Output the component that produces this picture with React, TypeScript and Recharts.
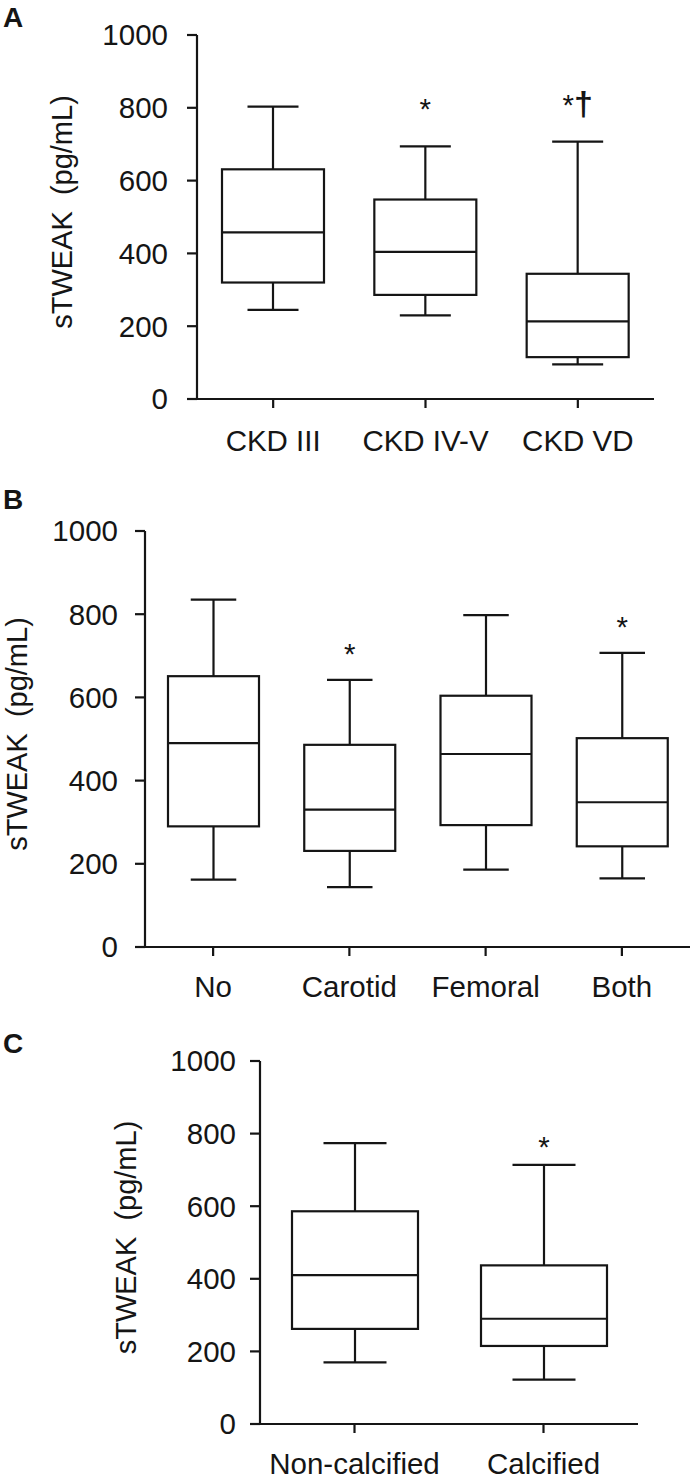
import React from 'react';
import { BarChart, Bar, XAxis, YAxis } from 'recharts';

// Panel A - CKD stage
const ckdGroups = ['CKD III', 'CKD IV-V', 'CKD VD'];
const ckdMin = [245, 230, 95];
const ckdQ1 = [320, 286, 115];
const ckdMedian = [458, 404, 213];
const ckdQ3 = [631, 548, 344];
const ckdMax = [803, 694, 707];
const ckdMarks = ['', '*', '*†'];

// Panel B - calcification site
const siteGroups = ['No', 'Carotid', 'Femoral', 'Both'];
const siteMin = [162, 144, 186, 165];
const siteQ1 = [290, 231, 293, 242];
const siteMedian = [490, 330, 464, 348];
const siteQ3 = [651, 486, 604, 502];
const siteMax = [835, 642, 798, 707];
const siteMarks = ['', '*', '', '*'];

// Panel C - calcified or not
const calcGroups = ['Non-calcified', 'Calcified'];
const calcMin = [170, 122];
const calcQ1 = [262, 215];
const calcMedian = [410, 290];
const calcQ3 = [586, 437];
const calcMax = [774, 714];
const calcMarks = ['', '*'];

const yTicks = [0, 200, 400, 600, 800, 1000];
const yTitle = 'sTWEAK  (pg/mL)';

const FONT = '"Liberation Sans", Arial, Helvetica, sans-serif';
const INK = '#151515';
const FS = 29.5;

const makeRows = (
  groups: string[],
  min: number[],
  q1: number[],
  median: number[],
  q3: number[],
  max: number[],
  marks: string[]
) =>
  groups.map((name, i) => ({
    name,
    box: [q1[i], q3[i]],
    min: min[i],
    median: median[i],
    max: max[i],
    mark: marks[i],
  }));

const BoxShape = (props: any) => {
  const { x, y, width, height, payload, markGap } = props;
  if (!payload) return null;
  const top = Math.min(y, y + height);
  const h = Math.abs(height);
  const [q1, q3] = payload.box;
  const k = h / (q3 - q1);
  const toY = (v: number) => top + (q3 - v) * k;
  const cx = x + width / 2;
  const cap = width / 4;
  const yMax = toY(payload.max);
  const yMin = toY(payload.min);
  const mark: string = payload.mark || '';
  return (
    <g stroke={INK} strokeWidth={2.2} fill="none">
      <line x1={cx} x2={cx} y1={yMax} y2={top} />
      <line x1={cx} x2={cx} y1={top + h} y2={yMin} />
      <line x1={cx - cap} x2={cx + cap} y1={yMax} y2={yMax} />
      <line x1={cx - cap} x2={cx + cap} y1={yMin} y2={yMin} />
      <rect x={x} y={top} width={width} height={h} fill="#fff" />
      <line x1={x} x2={x + width} y1={toY(payload.median)} y2={toY(payload.median)} />
      {mark ? (
        <text
          x={cx}
          y={yMax - markGap}
          textAnchor="middle"
          stroke="none"
          fill={INK}
          fontSize={FS}
          fontFamily={FONT}
        >
          {mark.replace('†', '')}
          {mark.includes('†') ? (
            <tspan fontWeight="bold" fontSize={34}>
              †
            </tspan>
          ) : null}
        </text>
      ) : null}
    </g>
  );
};

interface PanelProps {
  letter: string;
  letterTop: number;
  top: number;
  height: number;
  rows: any[];
  axisX: number;
  plotTop: number;
  plotBottom: number;
  plotRight: number;
  barSize: number;
  yTickMargin: number;
  xTickMargin: number;
  titleX: number;
  markGap: number;
}

const Panel: React.FC<PanelProps> = ({
  letter,
  letterTop,
  top,
  height,
  rows,
  axisX,
  plotTop,
  plotBottom,
  plotRight,
  barSize,
  yTickMargin,
  xTickMargin,
  titleX,
  markGap,
}) => {
  const tickStyle = { fill: INK, fontSize: FS, fontFamily: FONT };
  return (
    <div style={{ position: 'absolute', left: 0, top, width: 693, height }}>
      <BarChart
        width={693}
        height={height}
        data={rows}
        margin={{ top: plotTop, right: 693 - plotRight, left: 0, bottom: 0 }}
      >
        <XAxis
          dataKey="name"
          height={height - plotBottom}
          interval={0}
          tickSize={9}
          tickMargin={xTickMargin}
          tick={tickStyle}
          axisLine={{ stroke: INK, strokeWidth: 2.2 }}
          tickLine={{ stroke: INK, strokeWidth: 2.2 }}
        />
        <YAxis
          width={axisX}
          domain={[0, 1000]}
          ticks={yTicks}
          tickSize={10}
          tickMargin={yTickMargin}
          tick={tickStyle}
          axisLine={{ stroke: INK, strokeWidth: 2.2 }}
          tickLine={{ stroke: INK, strokeWidth: 2.2 }}
          label={{
            content: (p: any) => {
              const vb = p.viewBox || {};
              const cy = vb.y + vb.height / 2 - 5;
              return (
                <text
                  x={titleX}
                  y={cy}
                  transform={`rotate(-90, ${titleX}, ${cy})`}
                  textAnchor="middle"
                  fill={INK}
                  fontSize={29}
                  fontFamily={FONT}
                  style={{ whiteSpace: 'pre' }}
                >
                  {yTitle}
                </text>
              );
            },
          }}
        />
        <Bar
          dataKey="box"
          barSize={barSize}
          isAnimationActive={false}
          shape={(p: any) => <BoxShape {...p} markGap={markGap} />}
        />
      </BarChart>
      <div
        style={{
          position: 'absolute',
          left: 3,
          top: letterTop,
          fontFamily: FONT,
          fontWeight: 'bold',
          fontSize: 28,
          lineHeight: '34px',
          color: INK,
        }}
      >
        {letter}
      </div>
    </div>
  );
};

export default function App() {
  const ckdRows = makeRows(ckdGroups, ckdMin, ckdQ1, ckdMedian, ckdQ3, ckdMax, ckdMarks);
  const siteRows = makeRows(siteGroups, siteMin, siteQ1, siteMedian, siteQ3, siteMax, siteMarks);
  const calcRows = makeRows(calcGroups, calcMin, calcQ1, calcMedian, calcQ3, calcMax, calcMarks);
  return (
    <div
      style={{
        position: 'absolute',
        left: 0,
        top: 0,
        width: 693,
        height: 1480,
        background: '#fff',
        overflow: 'hidden',
      }}
    >
      <Panel
        letter="A"
        letterTop={1}
        top={0}
        height={480}
        rows={ckdRows}
        axisX={197}
        plotTop={35}
        plotBottom={399}
        plotRight={654}
        barSize={102}
        yTickMargin={19}
        xTickMargin={22}
        titleX={72}
        markGap={27}
      />
      <Panel
        letter="B"
        letterTop={3}
        top={480}
        height={540}
        rows={siteRows}
        axisX={145}
        plotTop={51}
        plotBottom={467}
        plotRight={690}
        barSize={91}
        yTickMargin={17}
        xTickMargin={20}
        titleX={27}
        markGap={16}
      />
      <Panel
        letter="C"
        letterTop={47}
        top={980}
        height={500}
        rows={calcRows}
        axisX={260}
        plotTop={81}
        plotBottom={444}
        plotRight={638}
        barSize={126}
        yTickMargin={14}
        xTickMargin={20}
        titleX={136}
        markGap={8}
      />
    </div>
  );
}
